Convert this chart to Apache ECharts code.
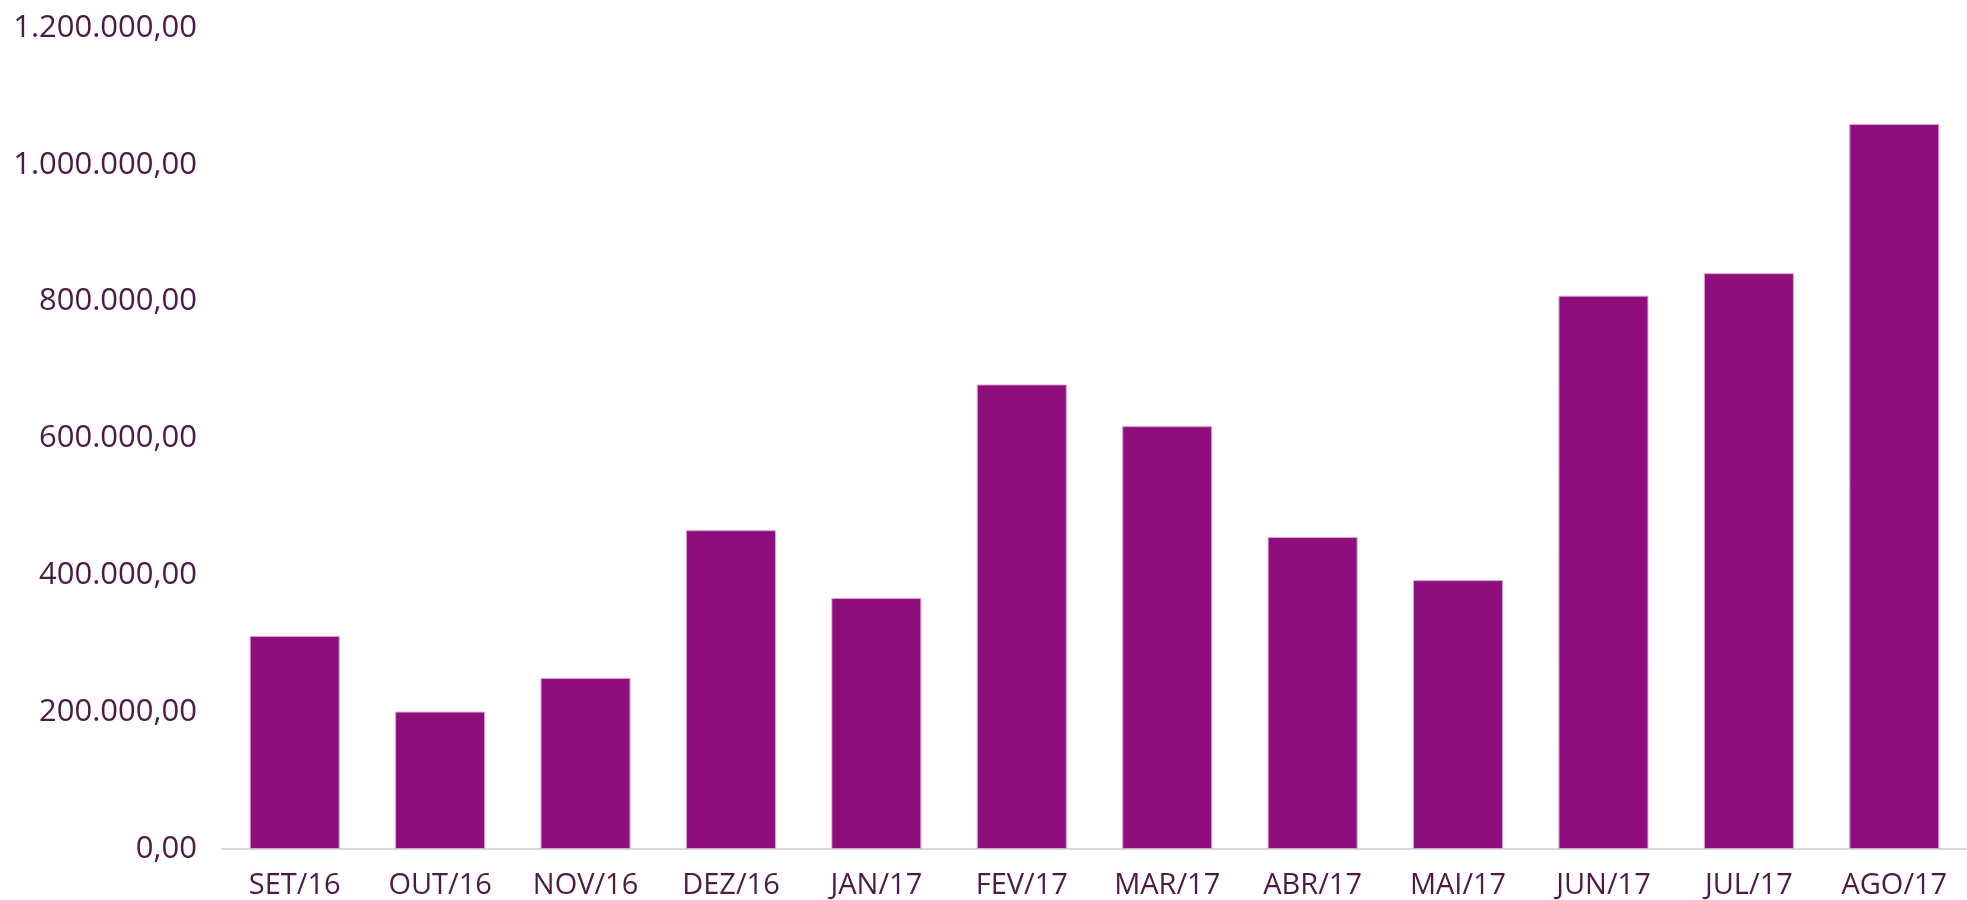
<!DOCTYPE html>
<html>
<head>
<meta charset="utf-8">
<script src="https://cdn.jsdelivr.net/npm/echarts@6/dist/echarts.min.js"></script>
<style>
html,body{margin:0;padding:0;background:#fff;}
#chart{width:1967px;height:900px;}
</style>
</head>
<body>
<div id="chart"></div>
<script>
const categories = ["SET/16","OUT/16","NOV/16","DEZ/16","JAN/17","FEV/17","MAR/17","ABR/17","MAI/17","JUN/17","JUL/17","AGO/17"];
const values = [311500, 200800, 250000, 466000, 367000, 679000, 618000, 456000, 393000, 808700, 841700, 1059700];
const yMin = 0, yMax = 1200000, yInterval = 200000;

function fmtBR(v){
  const s = Math.round(v).toString().replace(/\B(?=(\d{3})+(?!\d))/g, ".");
  return s + ",00";
}

const chart = echarts.init(document.getElementById('chart'));
chart.setOption({
  animation: false,
  backgroundColor: '#ffffff',
  grid: {left: 222, right: -7, top: 28, bottom: 47, containLabel: false},
  xAxis: {
    type: 'category',
    data: categories,
    axisLine: {lineStyle: {color: '#d9d9d9', width: 2}},
    axisTick: {show: false},
    axisLabel: {color: '#4d1a47', fontFamily: 'Open Sans', fontSize: 29, margin: 22, interval: 0}
  },
  yAxis: {
    type: 'value',
    min: yMin, max: yMax, interval: yInterval,
    axisLine: {show: false},
    axisTick: {show: false},
    splitLine: {show: false},
    axisLabel: {color: '#4d1a47', fontFamily: 'Open Sans', fontSize: 31, margin: 25, formatter: fmtBR}
  },
  series: [{
    type: 'bar',
    data: values,
    barWidth: 90,
    itemStyle: {color: '#8e0e7e', borderColor: '#d6a6d0', borderWidth: 1}
  }]
});
</script>
</body>
</html>
